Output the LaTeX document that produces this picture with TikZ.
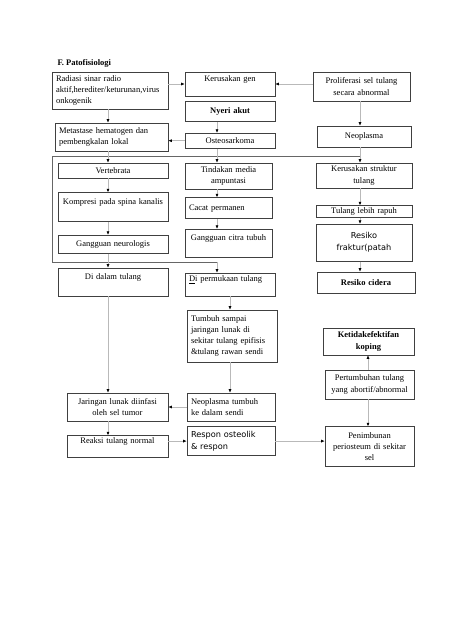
\documentclass[tikz,border=0pt]{standalone}
\usepackage{fontspec}
\setmainfont{Liberation Serif}
\newfontfamily\sansfont{DejaVu Sans}
\usetikzlibrary{shapes,arrows.meta,positioning}

\begin{document}
\begin{tikzpicture}[x=1pt, y=1pt,
    box/.style={rectangle, draw=black!75, line width=0.6pt, inner xsep=4pt, inner ysep=2pt, font=\fontsize{8.5}{11.3}\selectfont, align=center},
    boldbox/.style={box, font=\fontsize{8.5}{11.3}\selectfont\bfseries},
    sansbox/.style={box, font=\fontsize{8.2}{12}\selectfont\sansfont},
    arrow/.style={-{Latex[length=3.5pt,width=3pt,black]}, draw=gray!55, line width=0.6pt},
    frameline/.style={draw=black!60, line width=0.8pt}
]

\fill[white] (0,0) rectangle (474,-632);
\useasboundingbox (0,0) rectangle (474,-632);

% Title
\node[font=\fontsize{8.5}{10}\selectfont\bfseries, anchor=west] (title) at (54,-63) {F. Patofisiologi};

% Top row
\node[box, align=left, text width=108pt, minimum height=37pt] (radiasi) at (110,-90.5) {Radiasi sinar radio\\aktif,herediter/keturunan,virus\\onkogenik};
\node[box, text width=82pt, minimum height=24pt] (kgen) at (230,-84) {Kerusakan gen\\\mbox{}};
\node[boldbox, below=5pt of kgen, text width=82pt, minimum height=20pt] (nyeri) {Nyeri akut};
\node[box, below=11pt of nyeri, text width=82pt, minimum height=15pt] (osteo) {Osteosarkoma};
\node[box, text width=89pt, minimum height=29pt] (prolif) at (361.5,-86.5) {Proliferasi sel tulang\\secara abnormal};
\node[box, text width=86pt, minimum height=21pt] (neoplasma) at (364,-136.5) {Neoplasma};
\node[box, align=left, text width=105pt, minimum height=28pt] (metastase) at (111.5,-137) {Metastase hematogen dan\\pembengkalan lokal};

% Left column
\node[box, text width=102pt, minimum height=15pt] (vertebrata) at (113,-170.5) {Vertebrata};
\node[box, below=14pt of vertebrata, text width=102pt, minimum height=29pt] (kompresi) {Kompresi pada spina kanalis\\\mbox{}};
\node[box, below=13pt of kompresi, text width=102pt, minimum height=18pt] (gneuro) {Gangguan neurologis};

% Middle column
\node[box, text width=79pt, minimum height=26pt] (tindakan) at (228.5,-176) {Tindakan media\\ampuntasi};
\node[box, align=left, below=8pt of tindakan, text width=79pt, minimum height=21pt] (cacat) {Cacat permanen};
\node[box, below=10pt of cacat, text width=79pt, minimum height=28pt] (gcitra) {Gangguan citra tubuh\\\mbox{}};

% Right column
\node[box, text width=88pt, minimum height=25pt] (kstruktur) at (364,-175.5) {Kerusakan struktur\\tulang};
\node[box, below=17pt of kstruktur, text width=88pt, minimum height=12pt] (rapuh) {Tulang lebih rapuh};
\node[sansbox, below=6pt of rapuh, text width=88pt, minimum height=37pt] (fraktur) {Resiko\\fraktur(patah};
\node[boldbox, text width=90pt, minimum height=21pt] (cidera) at (366,-282.5) {Resiko cidera};

% Lower part
\node[box, text width=102pt, minimum height=28pt] (didalam) at (113,-282) {Di dalam tulang\\\mbox{}};
\node[box, align=left, text width=82pt, minimum height=23pt] (dipermukaan) at (230,-284.5) {\underline{D}i permukaan tulang\\\mbox{}};
\node[box, align=left, text width=82pt, minimum height=52pt] (tumbuh) at (232,-336) {Tumbuh sampai\\jaringan lunak di\\sekitar tulang epifisis\\\&tulang rawan sendi};
\node[box, text width=93pt, minimum height=28pt] (jaringan) at (117.5,-407) {Jaringan lunak diinfasi\\oleh sel tumor};
\node[box, below=14pt of jaringan, text width=93pt, minimum height=21pt] (reaksi) {Reaksi tulang normal\\\mbox{}};
\node[box, align=left, text width=80pt, minimum height=28pt] (neotumbuh) at (231,-407) {Neoplasma tumbuh\\ke dalam sendi};
\node[sansbox, align=left, below=5pt of neotumbuh, text width=80pt, minimum height=29pt] (respon) {Respon osteolik\\\& respon};
\node[boldbox, text width=83pt, minimum height=27pt] (koping) at (368.5,-341.5) {Ketidakefektifan\\koping};
\node[box, text width=81pt, minimum height=29pt] (pertumbuhan) at (369.5,-384.5) {Pertumbuhan tulang\\yang abortif/abnormal};
\node[box, below=27pt of pertumbuhan, text width=81pt, minimum height=40pt] (penimbunan) {Penimbunan\\periosteum di sekitar\\sel};

% Columns and frame corners
\coordinate (colA) at (108,0);
\coordinate (colB) at (217,0);
\coordinate (colC) at (360,0);
\coordinate (colD) at (230,0);
\coordinate (colE) at (368,0);
\coordinate (ftl) at (52,-156);
\coordinate (ftr) at (360,-156);
\coordinate (fbl) at (52,-262);
\coordinate (fbr) at (217,-262);

% Frame
\draw[frameline] (fbl) -- (ftl) -- (ftr);
\draw[frameline] (fbl) -- (fbr);

% Connections
\draw[arrow] (radiasi.east |- kgen.west) -- (kgen.west);
\draw[arrow] (prolif.west |- kgen.east) -- (kgen.east);
\draw[arrow] (radiasi.south -| colA) -- (metastase.north -| colA);
\draw[arrow] (nyeri.south -| colB) -- (osteo.north -| colB);
\draw[arrow] (osteo.west) -- (osteo.west -| metastase.east);
\draw[arrow] (prolif.south -| colC) -- (neoplasma.north -| colC);
\draw[arrow] (neoplasma.south -| colC) -- (kstruktur.north -| colC);
\draw[arrow] (metastase.south -| colA) -- (vertebrata.north -| colA);
\draw[arrow] (osteo.south -| colB) -- (tindakan.north -| colB);
\draw[arrow] (vertebrata.south -| colA) -- (kompresi.north -| colA);
\draw[arrow] (kompresi.south -| colA) -- (gneuro.north -| colA);
\draw[arrow] (tindakan.south -| colB) -- (cacat.north -| colB);
\draw[arrow] (cacat.south -| colB) -- (gcitra.north -| colB);
\draw[arrow] (kstruktur.south -| colC) -- (rapuh.north -| colC);
\draw[arrow] (rapuh.south -| colC) -- (fraktur.north -| colC);
\draw[arrow] (fraktur.south -| colC) -- (cidera.north -| colC);
\draw[arrow] (gneuro.south -| colA) -- (didalam.north -| colA);
\draw[arrow] (fbr) -- (dipermukaan.north -| fbr);
\draw[arrow] (didalam.south -| colA) -- (jaringan.north -| colA);
\draw[arrow] (dipermukaan.south -| colD) -- (tumbuh.north -| colD);
\draw[arrow] (tumbuh.south -| colD) -- (neotumbuh.north -| colD);
\draw[arrow] (neotumbuh.west) -- (jaringan.east);
\draw[arrow] (jaringan.south -| colA) -- (reaksi.north -| colA);
\draw[arrow] (reaksi.east |- respon.west) -- (respon.west);
\draw[arrow] (respon.east) -- (respon.east -| penimbunan.west);
\draw[arrow] (pertumbuhan.north -| colE) -- (koping.south -| colE);
\draw[arrow] (pertumbuhan.south -| colE) -- (penimbunan.north -| colE);

\end{tikzpicture}
\end{document}
